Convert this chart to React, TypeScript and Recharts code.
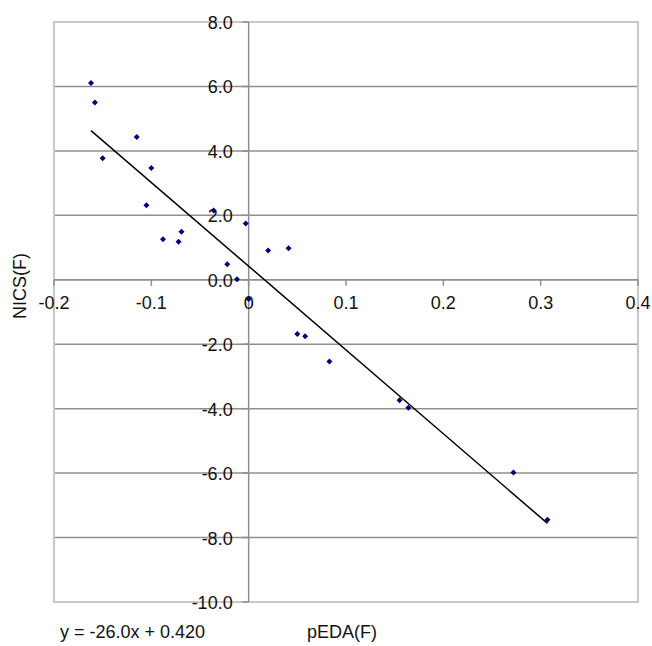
import React from 'react';
import { ScatterChart, Scatter, XAxis, YAxis, CartesianGrid, ReferenceLine, ReferenceArea } from 'recharts';

const pedaX = [-0.162, -0.158, -0.150, -0.115, -0.100, -0.105, -0.088, -0.072, -0.069, -0.036, -0.003, -0.022, -0.012, 0.020, 0.041, 0.000, 0.050, 0.058, 0.083, 0.155, 0.164, 0.272, 0.307];
const nicsY = [6.11, 5.50, 3.77, 4.43, 3.47, 2.31, 1.26, 1.18, 1.49, 2.15, 1.75, 0.48, 0.02, 0.91, 0.98, -0.60, -1.68, -1.75, -2.54, -3.74, -3.97, -5.98, -7.45];
const trendX = [-0.162, 0.307];
const trendY = [4.63, -7.56];
const xTicks = [-0.2, -0.1, 0, 0.1, 0.2, 0.3, 0.4];
const xTickLabels = ['-0.2', '-0.1', '0', '0.1', '0.2', '0.3', '0.4'];
const yTicks = [8, 6, 4, 2, 0, -2, -4, -6, -8, -10];
const yTickLabels = ['8.0', '6.0', '4.0', '2.0', '0.0', '-2.0', '-4.0', '-6.0', '-8.0', '-10.0'];
const gridValues = [6, 4, 2, 0, -2, -4, -6, -8];
const equationText = 'y = -26.0x + 0.420';
const xTitle = 'pEDA(F)';
const yTitle = 'NICS(F)';

const points = pedaX.map((x, i) => ({ x, y: nicsY[i] }));
const trend = trendX.map((x, i) => ({ x, y: trendY[i] }));

const W = 644;
const H = 630;
const M = { top: 14, right: 14, bottom: 35, left: 45 };
const AX = 1;
const X_DOMAIN: [number, number] = [-0.2, 0.4];
const Y_DOMAIN: [number, number] = [-10, 8];
const plotLeft = M.left + AX;
const plotW = W - plotLeft - M.right;
const plotH = H - M.top - M.bottom - AX;
const xZero = plotLeft + plotW * (0 - X_DOMAIN[0]) / (X_DOMAIN[1] - X_DOMAIN[0]);
const yZero = M.top + plotH * (Y_DOMAIN[1] - 0) / (Y_DOMAIN[1] - Y_DOMAIN[0]);

const FONT = '"Liberation Sans", Arial, sans-serif';
const GRID = '#8f8f8f';

const XTick = (props: any) => {
  const { x, payload } = props;
  const idx = xTicks.indexOf(payload.value);
  return (
    <g>
      <line x1={x} x2={x} y1={yZero} y2={yZero + 6} stroke={GRID} strokeWidth={1.5} />
      <text x={x} y={yZero + 23} textAnchor="middle" dominantBaseline="central" fontSize={18} fontFamily={FONT} fill="#111">
        {idx >= 0 ? xTickLabels[idx] : payload.value}
      </text>
    </g>
  );
};

const YTick = (props: any) => {
  const { y, payload } = props;
  const idx = yTicks.indexOf(payload.value);
  return (
    <g>
      <line x1={xZero - 6} x2={xZero} y1={y} y2={y} stroke={GRID} strokeWidth={1.5} />
      <text x={xZero - 16} y={y + 1} textAnchor="end" dominantBaseline="central" fontSize={18} fontFamily={FONT} fill="#111">
        {idx >= 0 ? yTickLabels[idx] : payload.value}
      </text>
    </g>
  );
};

const Diamond = (props: any) => {
  const { cx, cy } = props;
  const r = 3;
  return <path d={`M${cx},${cy - r}L${cx + r},${cy}L${cx},${cy + r}L${cx - r},${cy}Z`} fill="#00007a" />;
};

const NoShape = () => <g />;

export default function App() {
  return (
    <div style={{ position: 'relative', width: 652, height: 646, boxSizing: 'border-box', padding: '8px 0 0 8px', overflow: 'hidden', fontFamily: FONT, background: '#fff' }}>
      <style>{'html,body{margin:0;padding:0;overflow:hidden;} .recharts-wrapper,.recharts-surface{overflow:visible !important;}'}</style>
      <div style={{ position: 'relative', width: W, height: 638 }}>
        <ScatterChart width={W} height={H} margin={M} style={{ overflow: 'visible' }}>
          <ReferenceArea x1={X_DOMAIN[0]} x2={X_DOMAIN[1]} y1={Y_DOMAIN[0]} y2={Y_DOMAIN[1]} fill="none" stroke="#c8c8c8" strokeWidth={2} fillOpacity={0} />
          <CartesianGrid vertical={false} horizontalValues={gridValues} stroke={GRID} strokeWidth={1.5} />
          <XAxis type="number" dataKey="x" domain={X_DOMAIN} ticks={xTicks} axisLine={false} tickLine={false} tick={<XTick />} height={AX} interval={0} />
          <YAxis type="number" dataKey="y" domain={Y_DOMAIN} ticks={yTicks} axisLine={false} tickLine={false} tick={<YTick />} width={AX} interval={0} />
          <ReferenceLine x={0} stroke={GRID} strokeWidth={1.5} />
          <ReferenceLine y={0} stroke={GRID} strokeWidth={1.5} />
          <Scatter data={trend} line={{ stroke: '#000', strokeWidth: 1.5 }} shape={<NoShape />} isAnimationActive={false} />
          <Scatter data={points} shape={<Diamond />} isAnimationActive={false} />
        </ScatterChart>
        <div style={{ position: 'absolute', left: 12, top: 278, transform: 'translate(-50%, -50%) rotate(-90deg)', fontSize: 18, whiteSpace: 'nowrap', color: '#111' }}>{yTitle}</div>
        <div style={{ position: 'absolute', left: 52, top: 614, fontSize: 18, whiteSpace: 'nowrap', color: '#111', lineHeight: '20px' }}>{equationText}</div>
        <div style={{ position: 'absolute', left: 299, top: 614, fontSize: 18, whiteSpace: 'nowrap', color: '#111', lineHeight: '20px' }}>{xTitle}</div>
      </div>
    </div>
  );
}
